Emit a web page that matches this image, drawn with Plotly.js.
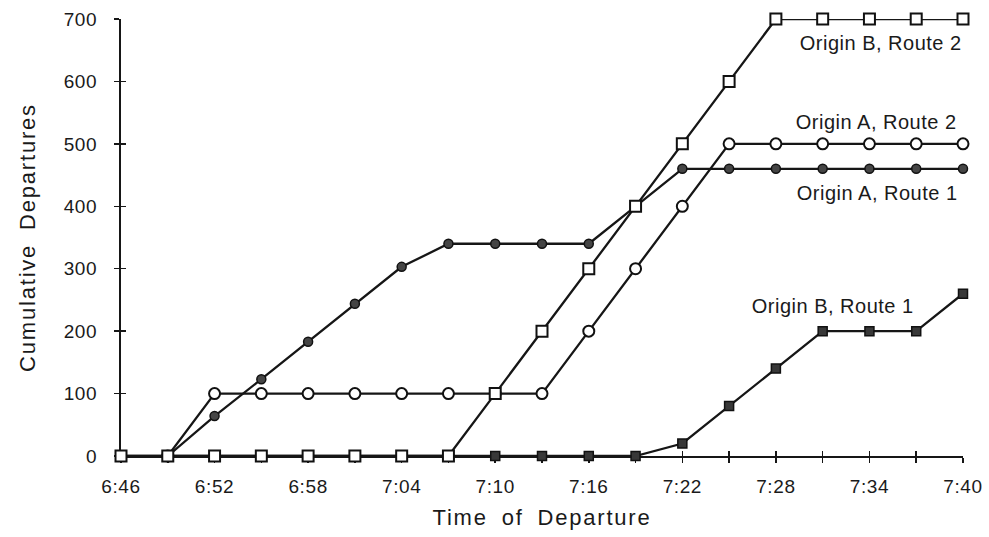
<!DOCTYPE html>
<html>
<head>
<meta charset="utf-8">
<script src="https://cdn.plot.ly/plotly-3.0.1.min.js"></script>
<style>
html,body{margin:0;padding:0;background:#fff;}
#chart{width:989px;height:537px;}
#chart text.xtitle, #chart text.ytitle{letter-spacing:1.8px; word-spacing:6px;}
#chart text.annotation-text{letter-spacing:0.5px;}
#chart .xtick text, #chart .ytick text{letter-spacing:0.6px;}
</style>
</head>
<body>
<div id="chart"></div>
<script>
// Departure times (every 3 minutes)
var times = ["6:46","6:49","6:52","6:55","6:58","7:01","7:04","7:07","7:10","7:13","7:16","7:19","7:22","7:25","7:28","7:31","7:34","7:37","7:40"];
// Cumulative departures per series
var originA_route1 = [null,0,64,123,183,244,303,340,340,340,340,400,460,460,460,460,460,460,460];
var originA_route2 = [null,0,100,100,100,100,100,100,100,100,200,300,400,500,500,500,500,500,500];
var originB_route1 = [0,0,0,0,0,0,0,0,0,0,0,0,20,80,140,200,200,200,260];
var originB_route2 = [0,0,0,0,0,0,0,0,100,200,300,400,500,600,700,700,700,700,700];
// Tick labels
var xTickLabels = ["6:46","6:52","6:58","7:04","7:10","7:16","7:22","7:28","7:34","7:40"];
var yTickValues = [0,100,200,300,400,500,600,700];
var seriesLabels = ["Origin A, Route 1","Origin A, Route 2","Origin B, Route 1","Origin B, Route 2"];

function toMin(t){var p=t.split(":");return (+p[0])*60+(+p[1]);}
var xs = times.map(toMin);
var xMin = toMin(times[0]), xMax = toMin(times[times.length-1]);

var ink = "#161616";
var lineStyle = {color:ink, width:2.3};
var font = "Liberation Sans, Arial, Helvetica, sans-serif";

var traces = [
  {x:xs, y:originB_route1, name:seriesLabels[2], mode:"lines+markers", line:lineStyle, cliponaxis:false,
   marker:{symbol:"square", size:9, color:"#383838", line:{color:"#111", width:1.5}}},
  {x:xs, y:originA_route1, name:seriesLabels[0], mode:"lines+markers", line:lineStyle, cliponaxis:false,
   marker:{symbol:"circle", size:9, color:"#454545", line:{color:"#111", width:1.5}}},
  {x:xs, y:originA_route2, name:seriesLabels[1], mode:"lines+markers", line:lineStyle, cliponaxis:false,
   marker:{symbol:"circle", size:11, color:"#fff", line:{color:"#111", width:2}}},
  {x:xs, y:originB_route2, name:seriesLabels[3], mode:"lines+markers", line:lineStyle, cliponaxis:false,
   marker:{symbol:"square", size:11, color:"#fff", line:{color:"#111", width:2}}},
  {x:[], y:[], xaxis:"x2", yaxis:"y2", showlegend:false, hoverinfo:"skip"}
];

var layout = {
  width:989, height:537,
  margin:{l:121, r:26, t:19, b:81},
  paper_bgcolor:"#fff", plot_bgcolor:"#fff",
  showlegend:false,
  font:{family:font, color:"#1a1a1a"},
  xaxis:{
    range:[xMin,xMax], showgrid:false, zeroline:false, layer:"below traces",
    showline:true, linecolor:ink, linewidth:2,
    tickmode:"array", tickvals:xTickLabels.map(toMin), ticktext:xTickLabels,
    ticks:"outside", ticklen:5, tickwidth:1.5, tickcolor:ink,
    minor:{dtick:3, tick0:xMin, ticks:"outside", ticklen:5, tickwidth:1.5, tickcolor:ink},
    tickfont:{size:19, color:"#1a1a1a"}, ticklabelstandoff:7,
    title:{text:"Time of Departure", font:{size:22, color:"#1a1a1a"}, standoff:14}
  },
  yaxis:{
    range:[0,700], showgrid:false, zeroline:false, layer:"below traces",
    showline:true, linecolor:ink, linewidth:2,
    tickmode:"array", tickvals:yTickValues,
    ticks:"outside", ticklen:5, tickwidth:1.5, tickcolor:ink,
    tickfont:{size:19, color:"#1a1a1a"}, ticklabelstandoff:13,
    title:{text:"Cumulative Departures", font:{size:22, color:"#1a1a1a"}, standoff:24}
  },
  xaxis2:{overlaying:"x", anchor:"y", side:"bottom", range:[xMin,xMax], showgrid:false, zeroline:false,
    layer:"below traces", showline:false, showticklabels:false, tickmode:"linear", tick0:xMin, dtick:3,
    ticks:"inside", ticklen:5, tickwidth:1.5, tickcolor:ink},
  yaxis2:{overlaying:"y", anchor:"x", side:"left", range:[0,700], showgrid:false, zeroline:false,
    layer:"below traces", showline:false, showticklabels:false, tickmode:"array", tickvals:yTickValues,
    ticks:"inside", ticklen:5, tickwidth:1.5, tickcolor:ink},
  annotations:[
    {x:454.7, y:662, text:seriesLabels[3], showarrow:false, font:{size:20, color:"#1a1a1a"}},
    {x:454.4, y:535, text:seriesLabels[1], showarrow:false, font:{size:20, color:"#1a1a1a"}},
    {x:454.5, y:421, text:seriesLabels[0], showarrow:false, font:{size:20, color:"#1a1a1a"}},
    {x:451.6, y:240, text:seriesLabels[2], showarrow:false, font:{size:20, color:"#1a1a1a"}}
  ]
};

Plotly.newPlot("chart", traces, layout, {staticPlot:true, displayModeBar:false});
</script>
</body>
</html>
